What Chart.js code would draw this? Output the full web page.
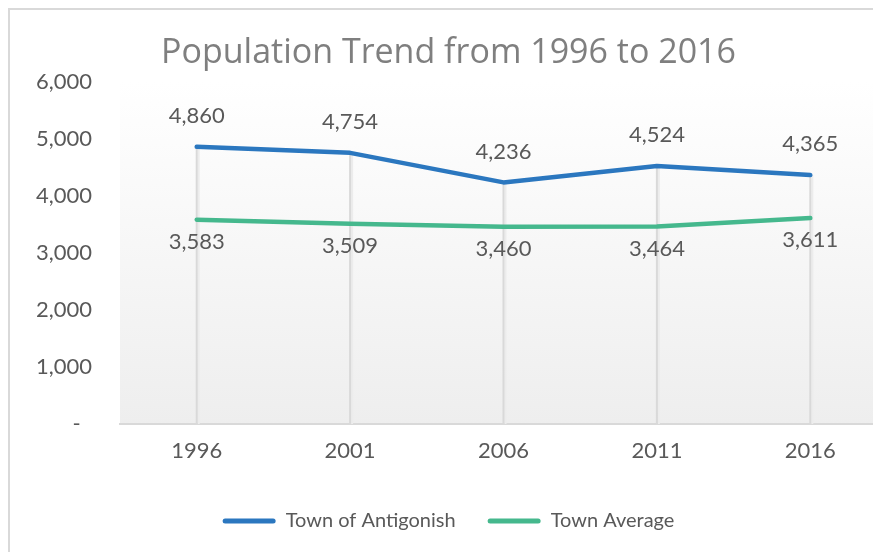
<!DOCTYPE html>
<html>
<head>
<meta charset="utf-8">
<script src="https://cdn.jsdelivr.net/npm/chart.js@4.4.1/dist/chart.umd.min.js"></script>
<style>
  html, body { margin: 0; padding: 0; background: #ffffff; overflow: hidden; width: 873px; height: 552px; }
  #frame { position: absolute; left: 8px; top: 8px; width: 900px; height: 600px; border-top: 2px solid #d9d9d9; border-left: 2px solid #d9d9d9; }
  #wrap { position: absolute; left: 10px; top: 10px; width: 877px; height: 542px; }
</style>
</head>
<body>
<div id="frame"></div>
<div id="wrap"><canvas id="c" width="877" height="542"></canvas></div>
<script>
const titleText = 'Population Trend from 1996 to 2016';
const years = ['1996', '2001', '2006', '2011', '2016'];
const seriesNames = ['Town of Antigonish', 'Town Average'];
const antigonish = [4860, 4754, 4236, 4524, 4365];
const townAverage = [3583, 3509, 3460, 3464, 3611];
const yTicks = [0, 1000, 2000, 3000, 4000, 5000, 6000];

const BLUE = '#2b77bf';
const GREEN = '#45b88d';
const TEXT = '#595959';

const bgPlugin = {
  id: 'plotBg',
  beforeDraw(chart) {
    const { ctx, chartArea: a } = chart;
    const g = ctx.createLinearGradient(0, a.top, 0, a.bottom);
    g.addColorStop(0, '#ffffff');
    g.addColorStop(1, '#eeeeee');
    ctx.save();
    ctx.fillStyle = g;
    ctx.fillRect(a.left, a.top, a.right - a.left, a.bottom - a.top);
    ctx.restore();
  }
};

const dropLines = {
  id: 'dropLines',
  beforeDatasetsDraw(chart) {
    const { ctx, chartArea: a } = chart;
    const m0 = chart.getDatasetMeta(0).data;
    const m1 = chart.getDatasetMeta(1).data;
    ctx.save();
    for (let i = 0; i < m0.length; i++) {
      const x = m0[i].x;
      const top = Math.min(m0[i].y, m1[i].y);
      ctx.strokeStyle = '#ececec';
      ctx.lineWidth = 2;
      ctx.beginPath(); ctx.moveTo(x + 2, top); ctx.lineTo(x + 2, a.bottom); ctx.stroke();
      ctx.strokeStyle = '#d9d9d9';
      ctx.beginPath(); ctx.moveTo(x, top); ctx.lineTo(x, a.bottom); ctx.stroke();
    }
    ctx.restore();
  }
};

const valueLabels = {
  id: 'valueLabels',
  afterDatasetsDraw(chart) {
    const { ctx } = chart;
    ctx.save();
    ctx.font = '22px Lato';
    ctx.fillStyle = TEXT;
    ctx.textAlign = 'center';
    ctx.textBaseline = 'middle';
    chart.data.datasets.forEach((ds, di) => {
      const meta = chart.getDatasetMeta(di);
      meta.data.forEach((pt, i) => {
        const v = ds.data[i].toLocaleString('en-US');
        const dy = di === 0 ? -31 : 22;
        ctx.fillText(v, pt.x, pt.y + dy);
      });
    });
    ctx.restore();
  }
};

new Chart(document.getElementById('c'), {
  type: 'line',
  data: {
    labels: years,
    datasets: [
      { label: seriesNames[0], data: antigonish, borderColor: BLUE, backgroundColor: BLUE, borderWidth: 4.5, pointRadius: 0, tension: 0, fill: false, borderCapStyle: 'round', borderJoinStyle: 'round' },
      { label: seriesNames[1], data: townAverage, borderColor: GREEN, backgroundColor: GREEN, borderWidth: 4.5, pointRadius: 0, tension: 0, fill: false, borderCapStyle: 'round', borderJoinStyle: 'round' }
    ]
  },
  options: {
    responsive: false,
    animation: false,
    layout: { padding: { top: 0, right: 0, bottom: 11, left: 0 } },
    plugins: {
      title: {
        display: true,
        text: titleText,
        color: '#7f7f7f',
        font: { family: 'Open Sans', size: 34, weight: 'normal' },
        padding: { top: 23, bottom: 8 }
      },
      legend: {
        display: true,
        position: 'bottom',
        labels: {
          color: TEXT,
          font: { family: 'Lato', size: 20 },
          boxWidth: 53,
          boxHeight: 5,
          useBorderRadius: true,
          borderRadius: 2.5,
          padding: 32,
          generateLabels(chart) {
            return Chart.defaults.plugins.legend.labels.generateLabels(chart).map(l => Object.assign(l, { strokeStyle: 'rgba(0,0,0,0)', fillStyle: chart.data.datasets[l.datasetIndex].borderColor }));
          }
        }
      },
      tooltip: { enabled: false }
    },
    scales: {
      x: {
        offset: true,
        grid: { display: false, drawTicks: false },
        border: { display: true, color: '#d9d9d9', width: 2 },
        ticks: { color: TEXT, font: { family: 'Lato', size: 22 }, padding: 14 },
        afterFit(scale) { scale.height = 55; }
      },
      y: {
        min: 0,
        max: 6000,
        grid: { display: false, drawTicks: false },
        border: { display: false },
        afterBuildTicks(scale) { scale.ticks = yTicks.map(v => ({ value: v })); },
        ticks: {
          color: TEXT,
          font: { family: 'Lato', size: 22 },
          padding: 28,
          callback: (v) => v === 0 ? '-  ' : v.toLocaleString('en-US')
        },
        afterFit(scale) { scale.width = 110; }
      }
    }
  },
  plugins: [bgPlugin, dropLines, valueLabels]
});
</script>
</body>
</html>
